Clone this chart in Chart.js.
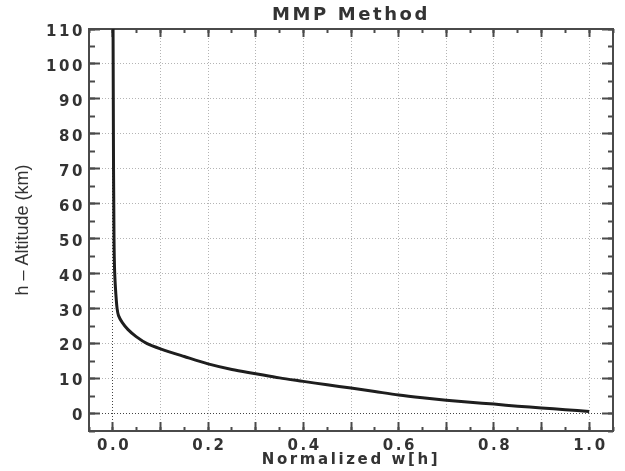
<!DOCTYPE html>
<html>
<head>
<meta charset="utf-8">
<script src="https://cdn.jsdelivr.net/npm/chart.js@4/dist/chart.umd.min.js"></script>
<style>
  html, body { margin: 0; padding: 0; background: #ffffff; }
  #wrap { width: 625px; height: 471px; }
</style>
</head>
<body>
<div id="wrap"><canvas id="c" width="625" height="471"></canvas></div>
<script>
// ---- data ----
const altitudeKm = [110, 90, 70, 60, 50, 45, 40, 36, 33, 30, 28, 26, 24, 22, 20, 18.5, 16.3, 14.2, 12.6, 11.4, 10.2, 9.2, 8.2, 7.3, 6.3, 5.3, 4.5, 3.8, 3.2, 2.7, 2.1, 1.6, 1.1, 0.6];
const normalizedW = [0.0005, 0.001, 0.0015, 0.002, 0.0025, 0.003, 0.004, 0.0055, 0.007, 0.009, 0.012, 0.02, 0.032, 0.049, 0.072, 0.1, 0.15, 0.2, 0.25, 0.3, 0.35, 0.4, 0.45, 0.5, 0.55, 0.6, 0.65, 0.7, 0.75, 0.8, 0.85, 0.9, 0.95, 1.0];

const xMajorTicks = [0, 0.1, 0.2, 0.3, 0.4, 0.5, 0.6, 0.7, 0.8, 0.9, 1.0];
const xTickLabels = ['0.0', '', '0.2', '', '0.4', '', '0.6', '', '0.8', '', '1.0'];
const xMinorTicks = [-0.05, 0, 0.05, 0.1, 0.15, 0.2, 0.25, 0.3, 0.35, 0.4, 0.45, 0.5, 0.55, 0.6, 0.65, 0.7, 0.75, 0.8, 0.85, 0.9, 0.95, 1.0, 1.05];
const yMajorTicks = [0, 10, 20, 30, 40, 50, 60, 70, 80, 90, 100, 110];
const yTickLabels = ['0', '10', '20', '30', '40', '50', '60', '70', '80', '90', '100', '110'];
const yMinorTicks = [-5, 0, 5, 10, 15, 20, 25, 30, 35, 40, 45, 50, 55, 60, 65, 70, 75, 80, 85, 90, 95, 100, 105, 110];

const titleText = 'MMP Method';
const xTitleText = 'Normalized w[h]';
const yTitleText = 'h \u2013 Altitude (km)';

// ---- styling ----
const X_MIN = -0.05, X_MAX = 1.05, Y_MIN = -5, Y_MAX = 110;
const frameColor = '#4a4a4a';
const textColor = '#333333';
const hersheyFont = 'DejaVu Sans';
const LETTER_SPACING = '2.6px';

const setTicks = (arr) => (axis) => { axis.ticks = arr.map(v => ({ value: v })); };
const zeroH = (axis) => { axis.height = 0; };
const zeroW = (axis) => { axis.width = 0; };

function tickOnlyAxis(position, ticksArr, len, withBorder, fitFn) {
  const horiz = (position === 'top' || position === 'bottom');
  return {
    type: 'linear',
    position: position,
    min: horiz ? X_MIN : Y_MIN,
    max: horiz ? X_MAX : Y_MAX,
    weight: 0,
    afterBuildTicks: setTicks(ticksArr),
    afterFit: fitFn,
    ticks: { display: false, autoSkip: false },
    grid: {
      display: true,
      drawOnChartArea: false,
      drawTicks: true,
      tickLength: -len,
      tickColor: frameColor,
      tickWidth: 2
    },
    border: { display: withBorder, color: frameColor, width: 2 }
  };
}

const spacingPlugin = {
  id: 'hersheySpacing',
  beforeDraw(chart) {
    chart.ctx.letterSpacing = LETTER_SPACING;
    const ys = chart.scales.y;
    if (ys && !ys._plainTitle) {
      const orig = ys.drawTitle;
      ys.drawTitle = function () {
        const c = this.ctx;
        c.save();
        c.letterSpacing = '0px';
        orig.call(this);
        c.restore();
      };
      ys._plainTitle = true;
    }
  },
  afterDraw(chart) {
    chart.ctx.letterSpacing = '0px';
  }
};

new Chart(document.getElementById('c'), {
  type: 'scatter',
  data: {
    datasets: [{
      data: normalizedW.map((w, i) => ({ x: w, y: altitudeKm[i] })),
      showLine: true,
      borderColor: '#1e1e1e',
      borderWidth: 3,
      pointRadius: 0,
      tension: 0.3,
      fill: false,
      xAxisID: 'x',
      yAxisID: 'y'
    }]
  },
  plugins: [spacingPlugin],
  options: {
    responsive: false,
    animation: false,
    events: [],
    layout: { padding: { left: 0, right: 12, top: 0, bottom: 0 } },
    plugins: {
      legend: { display: false },
      tooltip: { enabled: false },
      title: {
        display: true,
        text: titleText,
        fullSize: false,
        color: textColor,
        font: { family: hersheyFont, size: 18, weight: 'bold', lineHeight: 1.2 },
        padding: { top: 5, bottom: 2.4 }
      }
    },
    scales: {
      x: {
        type: 'linear',
        position: 'bottom',
        min: X_MIN, max: X_MAX,
        weight: 10,
        afterBuildTicks: setTicks(xMajorTicks),
        afterFit: (axis) => { axis.height = 40; },
        ticks: {
          autoSkip: false, maxRotation: 0, minRotation: 0,
          padding: 15.5,
          labelOffset: 1.3,
          color: textColor,
          font: { family: hersheyFont, size: 15, weight: 'bold', lineHeight: 1.2 },
          callback: (v, i) => xTickLabels[i]
        },
        grid: {
          drawOnChartArea: true,
          drawTicks: true,
          tickLength: -9,
          tickColor: frameColor,
          tickWidth: 2,
          lineWidth: 1,
          color: (ctx) => (ctx.tick && ctx.tick.value === 0) ? '#444444' : '#b4b4b4'
        },
        border: { display: true, color: frameColor, width: 2, dash: [1, 2] },
        title: {
          display: true,
          text: xTitleText,
          color: textColor,
          font: { family: hersheyFont, size: 15, weight: 'bold', lineHeight: 1.2 },
          padding: { top: 0, bottom: 1.5 }
        }
      },
      xMinor: tickOnlyAxis('bottom', xMinorTicks, 4, false, zeroH),
      xTop: tickOnlyAxis('top', xMajorTicks, 8, true, zeroH),
      xTopMinor: tickOnlyAxis('top', xMinorTicks, 4, false, zeroH),
      y: {
        type: 'linear',
        position: 'left',
        min: Y_MIN, max: Y_MAX,
        weight: 10,
        afterBuildTicks: setTicks(yMajorTicks),
        afterFit: (axis) => { axis.width = 89; },
        ticks: {
          autoSkip: false,
          padding: 15,
          labelOffset: 3,
          color: textColor,
          font: { family: hersheyFont, size: 15, weight: 'bold', lineHeight: 1.2 },
          callback: (v, i) => yTickLabels[i]
        },
        grid: {
          drawOnChartArea: true,
          drawTicks: true,
          tickLength: -11,
          tickColor: frameColor,
          tickWidth: 2,
          lineWidth: 1,
          color: (ctx) => {
            if (!ctx.tick) return '#b4b4b4';
            if (ctx.tick.value === 0) return '#444444';
            if (ctx.tick.value === Y_MAX) return 'rgba(0,0,0,0)';
            return '#b4b4b4';
          }
        },
        border: { display: true, color: frameColor, width: 2, dash: [1, 2] },
        title: {
          display: true,
          text: yTitleText,
          color: textColor,
          font: { family: 'Liberation Sans', size: 18, weight: 'normal', lineHeight: 1.2 },
          padding: { top: 12, bottom: 0 }
        }
      },
      yMinor: tickOnlyAxis('left', yMinorTicks, 6, false, zeroW),
      yRight: tickOnlyAxis('right', yMajorTicks, 11, true, zeroW),
      yRightMinor: tickOnlyAxis('right', yMinorTicks, 5, false, zeroW)
    }
  }
});
</script>
</body>
</html>
